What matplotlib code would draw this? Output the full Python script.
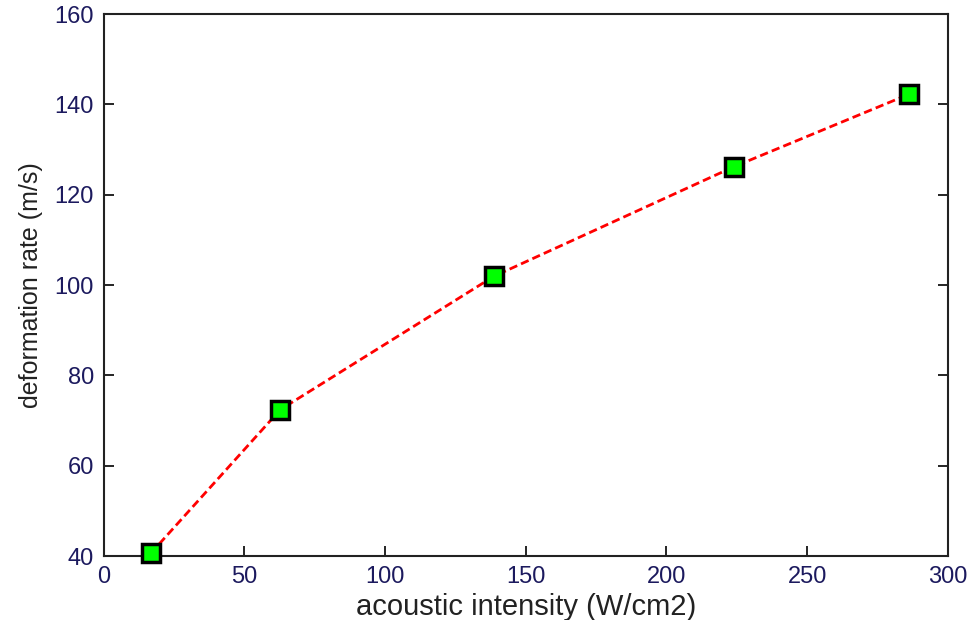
import matplotlib
matplotlib.use("Agg")
import matplotlib.pyplot as plt

intensity = [16.8, 62.8, 138.6, 224.0, 286.0]
deformation_rate = [40.6, 72.4, 101.9, 126.2, 142.2]
x_ticks = [0, 50, 100, 150, 200, 250, 300]
y_ticks = [40, 60, 80, 100, 120, 140, 160]

plt.rcParams['font.family'] = ['Liberation Sans', 'DejaVu Sans']

fig = plt.figure(figsize=(9.71, 6.2), dpi=100)
ax = fig.add_axes([0.1066, 0.1032, 0.8697, 0.8742])

ax.plot(intensity, deformation_rate, linestyle=(0, (3, 1.5)), color='#ff0000',
        linewidth=2.0, marker='s', markersize=13, markerfacecolor='#00ff00',
        markeredgecolor='black', markeredgewidth=2.5, clip_on=False, zorder=3)

ax.set_xlim(0, 300)
ax.set_ylim(40, 160)
ax.set_xticks(x_ticks)
ax.set_yticks(y_ticks)
ax.tick_params(direction='in', length=7, width=1.2, labelsize=17,
               labelcolor='#1c1a5e', top=False, right=True, pad=7)
for side in ax.spines.values():
    side.set_linewidth(1.5)
    side.set_color('#222222')

ax.set_xlabel('acoustic intensity (W/cm2)', fontsize=21, color='#222222', labelpad=4)
ax.set_ylabel('deformation rate (m/s)', fontsize=18, color='#222222', labelpad=8)

fig.savefig('out.png', dpi=100)
